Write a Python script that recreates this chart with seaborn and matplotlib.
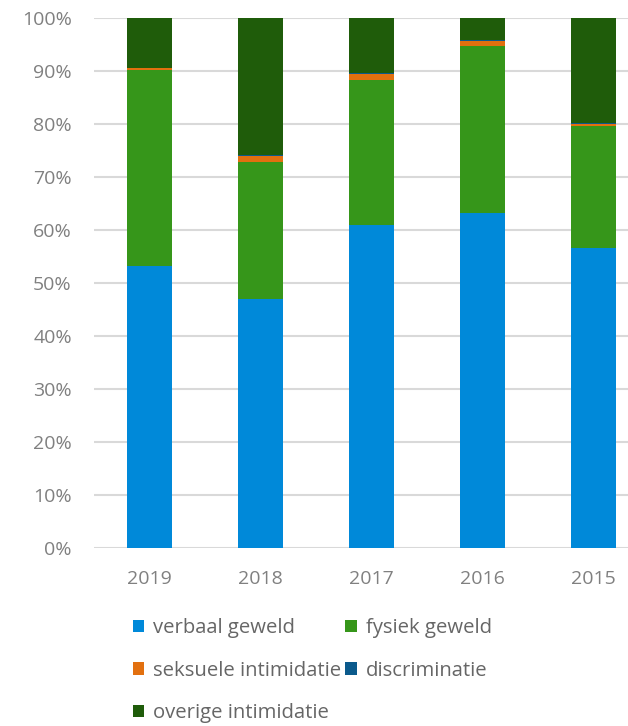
import numpy as np
import pandas as pd
import matplotlib
matplotlib.use("Agg")
import matplotlib.pyplot as plt
from matplotlib.patches import Patch
import seaborn as sns

years = ["2019", "2018", "2017", "2016", "2015"]
verbaal = [53.3, 47.0, 60.9, 63.2, 56.6]
fysiek = [36.8, 25.8, 27.4, 31.6, 23.0]
seksueel = [0.5, 1.1, 1.1, 0.8, 0.4]
discriminatie = [0.0, 0.3, 0.2, 0.3, 0.1]
overige = [9.4, 25.8, 10.4, 4.1, 19.9]

labels = ["verbaal geweld", "fysiek geweld", "seksuele intimidatie",
          "discriminatie", "overige intimidatie"]
colors = ["#0089d9", "#36961a", "#e2700f", "#0b5a8c", "#1f5c0a"]

df = pd.DataFrame({
    "jaar": years,
    labels[0]: verbaal,
    labels[1]: fysiek,
    labels[2]: seksueel,
    labels[3]: discriminatie,
    labels[4]: overige,
})
cum = df[labels].cumsum(axis=1)

sns.set_style("white")
plt.rcParams["font.family"] = ["Open Sans", "DejaVu Sans"]

fig = plt.figure(figsize=(6.28, 7.26), dpi=100)
ax = fig.add_axes([94 / 628, 178 / 726, 555 / 628, 530 / 726])

# stacked bars: draw cumulative totals from top layer down
for lab, col in reversed(list(zip(labels, colors))):
    sns.barplot(x=df["jaar"], y=cum[lab], color=col, width=0.4,
                saturation=1, linewidth=0, ax=ax, zorder=2)

ax.set_ylim(0, 100)
ax.set_xlim(-0.5, 4.5)
ax.set_yticks(np.arange(0, 101, 10))
ax.set_yticklabels([f"{v}%" for v in range(0, 101, 10)])
ax.yaxis.grid(True, color="#d9d9d9", linewidth=1.5)
ax.set_axisbelow(True)
for s in ax.spines.values():
    s.set_visible(False)
ax.tick_params(axis="y", length=0, pad=16, labelsize=14, labelcolor="#808080")
ax.tick_params(axis="x", length=0, pad=16, labelsize=14, labelcolor="#808080")
ax.set_xlabel("")
ax.set_ylabel("")

handles = [Patch(facecolor=c, edgecolor="none") for c in colors]
# reorder so the legend reads row by row
order = [0, 2, 4, 1, 3]
fig.legend([handles[i] for i in order], [labels[i] for i in order],
           ncol=2, loc="upper left", bbox_to_anchor=(133 / 628, 1 - 618 / 726),
           frameon=False, fontsize=14.6, labelcolor="#666666",
           handlelength=0.55, handleheight=0.55, handletextpad=0.45,
           columnspacing=0.2, labelspacing=1.12, borderaxespad=0,
           borderpad=0)

fig.savefig("out.png", dpi=100)
